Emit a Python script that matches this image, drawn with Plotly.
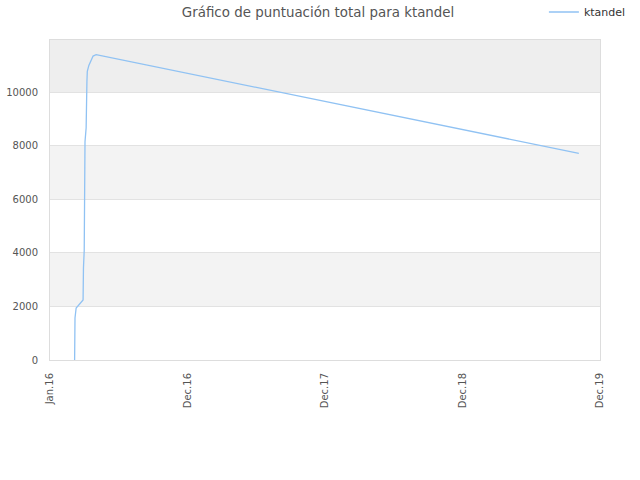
import plotly.graph_objects as go

fechas = [
    "2016-03-05", "2016-03-06", "2016-03-09", "2016-03-27", "2016-03-28",
    "2016-03-30", "2016-04-01", "2016-04-04", "2016-04-06", "2016-04-07",
    "2016-04-11", "2016-04-17", "2016-04-22", "2016-04-30", "2019-10-07",
]
puntos = [
    0, 1570, 1940, 2240, 3440,
    4100, 8150, 8670, 10400, 10780,
    11000, 11200, 11350, 11400, 7720,
]

tick_fechas = ["2016-01-01", "2016-12-23", "2017-12-16", "2018-12-08", "2019-12-01"]
tick_textos = ["Jan.16", "Dec.16", "Dec.17", "Dec.18", "Dec.19"]
y_ticks = [0, 2000, 4000, 6000, 8000, 10000]

bandas = [(2000, 4000, "#f3f3f3"), (6000, 8000, "#f3f3f3"), (10000, 11950, "#eeeeee")]

fig = go.Figure()
fig.add_trace(go.Scatter(
    x=fechas, y=puntos, mode="lines", name="ktandel",
    line=dict(color="#90c2f3", width=1.3),
))

for y0, y1, col in bandas:
    fig.add_shape(type="rect", xref="paper", yref="y", x0=0, x1=1, y0=y0, y1=y1,
                  fillcolor=col, line_width=0, layer="below")

fig.update_layout(
    width=640, height=480,
    margin=dict(l=50, r=40, t=40, b=120, autoexpand=False),
    paper_bgcolor="white", plot_bgcolor="white",
    font=dict(family="DejaVu Sans", size=10, color="#555555"),
    title=dict(text="Gráfico de puntuación total para ktandel", x=0.497, y=0.975,
               xanchor="center", yanchor="middle",
               font=dict(size=13.4, color="#555555")),
    showlegend=True,
    legend=dict(x=0.898, y=1.0875, xanchor="left", yanchor="middle",
                itemwidth=30, font=dict(size=11, color="#333333"),
                bgcolor="rgba(0,0,0,0)"),
    xaxis=dict(type="date", range=["2016-01-01", "2019-12-01"],
               tickvals=tick_fechas, ticktext=tick_textos, tickangle=-90,
               showgrid=False, zeroline=False, showline=True, linecolor="#dddddd",
               mirror=True, ticks="", ticklabelstandoff=8,
               tickfont=dict(size=10, color="#555555")),
    yaxis=dict(range=[0, 11950], tickvals=y_ticks, ticktext=[str(v) for v in y_ticks],
               showgrid=True, gridcolor="#e2e2e2", zeroline=False, showline=True,
               linecolor="#dddddd", mirror=True, ticks="", ticklabelstandoff=9,
               tickfont=dict(size=10, color="#555555")),
)

# drop the browser's default 8px body margin so the figure sits at the corner
fig.write_html("out.html", config={"displayModeBar": False},
               post_script="document.body.style.margin = '0';")
